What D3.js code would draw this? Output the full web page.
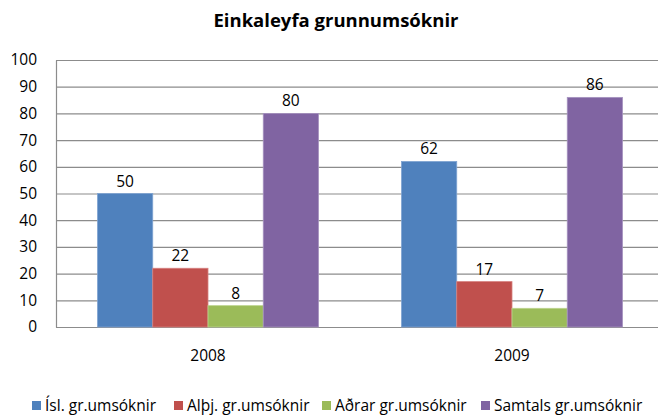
<!DOCTYPE html>
<html lang="is">
<head>
    <meta charset="utf-8"/>
    <title>Einkaleyfa grunnumsóknir</title>
    <script src="https://d3js.org/d3.v7.min.js"></script>
    <style>
        body { margin: 0; background: #fff; }
        svg text { font-family: "Open Sans", sans-serif; fill: #000; }
    </style>
</head>
<body>
<svg width="658" height="415"></svg>

<script type="text/javascript">

    // datos
    const years = ["2008", "2009"];
    const series = ["Ísl. gr.umsóknir", "Alþj. gr.umsóknir", "Aðrar gr.umsóknir", "Samtals gr.umsóknir"];
    const isl = [50, 62];
    const alth = [22, 17];
    const adrar = [8, 7];
    const samtals = [80, 86];
    const yTicks = [0, 10, 20, 30, 40, 50, 60, 70, 80, 90, 100];
    const colors = ["#4f81bd", "#c0504d", "#9bbb59", "#8064a2"];
    const borders = ["#7fa3d1", "#d6807e", "#bcd48e", "#a592bf"];

    const values = [isl, alth, adrar, samtals];

    const svg = d3.select("svg");
    const mLeft = 56, mRight = 664, mTop = 60, mBottom = 327;
    const fs = "15.5px";

    // escalas
    const x0 = d3.scaleBand().domain(years).range([mLeft, mRight])
        .paddingInner(0.273).paddingOuter(0.1365);
    const x1 = d3.scaleBand().domain(series).range([0, x0.bandwidth()]);
    const y = d3.scaleLinear().domain([0, 100]).range([mBottom, mTop]);

    // titulo
    svg.append("text")
        .attr("x", 336).attr("y", 27)
        .attr("text-anchor", "middle")
        .style("font-size", "18.5px")
        .style("font-weight", "bold")
        .text("Einkaleyfa grunnumsóknir");

    // eje y con grilla
    const yAxis = d3.axisLeft(y).tickValues(yTicks)
        .tickSize(-(mRight - mLeft)).tickSizeOuter(0).tickPadding(19);
    const gy = svg.append("g")
        .attr("transform", "translate(" + mLeft + ",0)")
        .call(yAxis);
    gy.selectAll(".tick line").attr("stroke", "#8c8c8c").attr("stroke-width", 1.2);
    gy.select(".domain").attr("stroke", "#8c8c8c").attr("stroke-width", 1.2);
    gy.selectAll("text").style("font-size", fs).attr("fill", "#000");

    // eje x
    const xAxis = d3.axisBottom(x0).tickSize(0).tickPadding(23);
    const gx = svg.append("g")
        .attr("transform", "translate(0," + mBottom + ")")
        .call(xAxis);
    gx.select(".domain").attr("stroke", "#8c8c8c").attr("stroke-width", 1.2);
    gx.selectAll("text").style("font-size", fs).attr("fill", "#000");

    // barras
    const groups = svg.selectAll("g.year")
        .data(years).enter()
        .append("g")
        .attr("class", "year")
        .attr("transform", d => "translate(" + x0(d) + ",0)");

    groups.selectAll("rect")
        .data((d, i) => series.map((s, j) => ({s: s, j: j, v: values[j][i]})))
        .enter()
        .append("rect")
        .attr("x", d => x1(d.s))
        .attr("y", d => y(d.v))
        .attr("width", x1.bandwidth())
        .attr("height", d => mBottom - y(d.v))
        .attr("fill", d => colors[d.j])
        .attr("stroke", d => borders[d.j])
        .attr("stroke-width", 0.8);

    groups.selectAll("text.val")
        .data((d, i) => series.map((s, j) => ({s: s, j: j, v: values[j][i]})))
        .enter()
        .append("text")
        .attr("class", "val")
        .attr("x", d => x1(d.s) + x1.bandwidth() / 2)
        .attr("y", d => y(d.v) - 7)
        .attr("text-anchor", "middle")
        .style("font-size", fs)
        .text(d => d.v);

    // leyenda
    const legendX = [32, 174, 322, 481];
    const legend = svg.selectAll("g.legend")
        .data(series).enter()
        .append("g")
        .attr("class", "legend")
        .attr("transform", (d, i) => "translate(" + legendX[i] + ",401)");

    legend.append("rect")
        .attr("width", 9).attr("height", 9)
        .attr("fill", (d, i) => colors[i]);

    legend.append("text")
        .attr("x", 13).attr("y", 9.5)
        .style("font-size", fs)
        .text(d => d);

</script>
</body>
</html>
